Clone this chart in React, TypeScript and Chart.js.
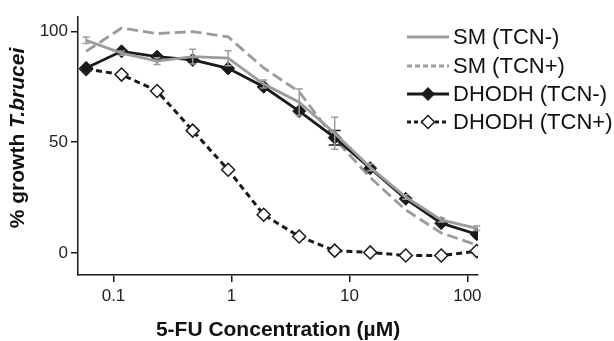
import { useEffect, useRef } from "react";
import { Chart, registerables } from "chart.js";

Chart.register(...registerables);

// ---- data ----
const concentrations = [0.0586, 0.117, 0.234, 0.469, 0.9375, 1.875, 3.75, 7.5, 15, 30, 60, 120];
const smTcnMinus = [96, 90.2, 86.6, 88.6, 87.9, 76.2, 68, 54, 38.6, 25.2, 14.9, 11.1];
const smTcnMinusErr = [1.5, 1, 1.5, 3.3, 3.4, 1.8, 6, 7.2, 1.5, 1, 1, 1];
const smTcnPlus = [91, 101.5, 99, 99.9, 97.5, 83.5, 72.7, 51.5, 34, 19.4, 9, 3.6];
const dhodhTcnMinus = [83.5, 91, 88.6, 87.1, 83.3, 75, 64, 52, 38.2, 24.4, 13.4, 8.4];
const dhodhTcnMinusErr = [0, 0, 0, 0, 0, 0, 0, 3.3, 0, 0, 0, 0];
const dhodhTcnPlus = [83, 80.5, 73.1, 55.2, 37.5, 17.2, 7.4, 1, 0.2, -1.2, -1.2, 0.8];
const seriesLabels = ["SM (TCN-)", "SM (TCN+)", "DHODH (TCN-)", "DHODH (TCN+)"];
const xTickValues = [0.1, 1, 10, 100];
const yTickValues = [0, 50, 100];
const xAxisTitle = "5-FU Concentration (\u00B5M)";
const yAxisTitleParts = ["% growth ", "T.brucei"];

const FONT = "'Liberation Sans', Arial, Helvetica, sans-serif";
const GRAY = "#9b9b9b";
const BLACK = "#1a1a1a";

const toPoints = (vals: number[]) => concentrations.map((x, i) => ({ x, y: vals[i] }));

const errorBarPlugin = {
  id: "errorBars",
  afterDatasetDraw(chart: any, args: any) {
    const ds: any = chart.data.datasets[args.index];
    if (!ds.errors) return;
    const yScale = chart.scales.y;
    const ctx = chart.ctx;
    ctx.save();
    ctx.strokeStyle = ds.errorColor;
    ctx.lineWidth = 1.5;
    ctx.setLineDash([]);
    const cap = ds.errorCap;
    args.meta.data.forEach((pt: any, i: number) => {
      const e = ds.errors[i];
      if (!e) return;
      const v = ds.data[i].y;
      const yT = yScale.getPixelForValue(v + e);
      const yB = yScale.getPixelForValue(v - e);
      ctx.beginPath();
      ctx.moveTo(pt.x, yT);
      ctx.lineTo(pt.x, yB);
      ctx.moveTo(pt.x - cap, yT);
      ctx.lineTo(pt.x + cap, yT);
      ctx.moveTo(pt.x - cap, yB);
      ctx.lineTo(pt.x + cap, yB);
      ctx.stroke();
    });
    ctx.restore();
  },
};

const titlesPlugin = {
  id: "titles",
  afterDraw(chart: any) {
    const ctx = chart.ctx;
    const area = chart.chartArea;
    ctx.save();
    ctx.fillStyle = "#111";
    // x title
    ctx.font = `bold 21px ${FONT}`;
    ctx.textAlign = "center";
    ctx.textBaseline = "alphabetic";
    ctx.fillText(xAxisTitle, (area.left + area.right) / 2, 336);
    // y title (mixed styles)
    const f1 = `bold 21px ${FONT}`;
    const f2 = `italic bold 21px ${FONT}`;
    ctx.font = f1;
    const w1 = ctx.measureText(yAxisTitleParts[0]).width;
    ctx.font = f2;
    const w2 = ctx.measureText(yAxisTitleParts[1]).width;
    ctx.translate(24, 138);
    ctx.rotate(-Math.PI / 2);
    ctx.textAlign = "left";
    const start = -(w1 + w2) / 2;
    ctx.font = f1;
    ctx.fillText(yAxisTitleParts[0], start, 0);
    ctx.font = f2;
    ctx.fillText(yAxisTitleParts[1], start + w1, 0);
    ctx.restore();
  },
};

const legendPlugin = {
  id: "customLegend",
  afterDraw(chart: any) {
    const ctx = chart.ctx;
    const x0 = 407;
    const x1 = 449;
    const rows = [37, 66, 94, 122];
    ctx.save();
    seriesLabels.forEach((label, r) => {
      const ds: any = chart.data.datasets.find((d: any) => d.label === label);
      const y = rows[r];
      ctx.strokeStyle = ds.borderColor;
      ctx.lineWidth = ds.borderWidth;
      ctx.setLineDash(ds.legendDash || []);
      ctx.beginPath();
      ctx.moveTo(x0, y);
      ctx.lineTo(x1, y);
      ctx.stroke();
      ctx.setLineDash([]);
      if (ds.pointRadius > 0) {
        const rad = ds.pointRadius;
        const cx = (x0 + x1) / 2;
        ctx.beginPath();
        ctx.moveTo(cx, y - rad);
        ctx.lineTo(cx + rad, y);
        ctx.lineTo(cx, y + rad);
        ctx.lineTo(cx - rad, y);
        ctx.closePath();
        ctx.fillStyle = ds.pointBackgroundColor;
        ctx.fill();
        ctx.lineWidth = ds.pointBorderWidth;
        ctx.strokeStyle = ds.pointBorderColor;
        ctx.stroke();
      }
      ctx.fillStyle = "#111";
      ctx.font = `22px ${FONT}`;
      ctx.textAlign = "left";
      ctx.textBaseline = "middle";
      ctx.fillText(label, 453, y + 1);
    });
    ctx.restore();
  },
};

export default function App() {
  const canvasRef = useRef<HTMLCanvasElement | null>(null);

  useEffect(() => {
    if (!canvasRef.current) return;
    const axisGrid = {
      display: true,
      drawOnChartArea: false,
      drawTicks: true,
      tickLength: 7,
      color: BLACK,
      lineWidth: 1.5,
    };
    const axisBorder = { display: true, color: BLACK, width: 1.5 };
    const chart = new Chart(canvasRef.current, {
      type: "line",
      data: {
        datasets: [
          {
            label: seriesLabels[0],
            data: toPoints(smTcnMinus),
            borderColor: GRAY,
            borderWidth: 2.8,
            pointRadius: 0,
            order: 0,
            errors: smTcnMinusErr,
            errorColor: GRAY,
            errorCap: 3.5,
          } as any,
          {
            label: seriesLabels[2],
            data: toPoints(dhodhTcnMinus),
            borderColor: BLACK,
            borderWidth: 2.8,
            pointStyle: "rectRot",
            pointRadius: 6.5,
            pointBackgroundColor: BLACK,
            pointBorderColor: BLACK,
            pointBorderWidth: 1,
            order: 1,
            errors: dhodhTcnMinusErr,
            errorColor: BLACK,
            errorCap: 6,
          } as any,
          {
            label: seriesLabels[1],
            data: toPoints(smTcnPlus),
            borderColor: GRAY,
            borderWidth: 2.8,
            borderDash: [11, 5],
            legendDash: [5, 3],
            pointRadius: 0,
            order: 2,
          } as any,
          {
            label: seriesLabels[3],
            data: toPoints(dhodhTcnPlus),
            borderColor: BLACK,
            borderWidth: 3,
            borderDash: [6, 4],
            legendDash: [4, 3],
            pointStyle: "rectRot",
            pointRadius: 6.5,
            pointBackgroundColor: "#ffffff",
            pointBorderColor: BLACK,
            pointBorderWidth: 1.5,
            order: 3,
          } as any,
        ],
      },
      options: {
        responsive: false,
        animation: false,
        events: [],
        layout: { padding: { top: 17, right: 136, left: 0, bottom: 0 } },
        plugins: {
          legend: { display: false },
          tooltip: { enabled: false },
          title: { display: false },
        },
        scales: {
          x: {
            type: "logarithmic",
            min: 0.05,
            max: 123,
            afterBuildTicks: (s: any) => {
              s.ticks = xTickValues.map((v) => ({ value: v }));
            },
            afterFit: (s: any) => {
              s.height = 66;
            },
            ticks: {
              callback: (v: any) => String(v),
              font: { size: 17, family: FONT },
              color: "#222",
              padding: 4,
              autoSkip: false,
              maxRotation: 0,
            },
            grid: axisGrid,
            border: axisBorder,
          },
          y: {
            type: "linear",
            min: -10,
            max: 106.5,
            afterBuildTicks: (s: any) => {
              s.ticks = yTickValues.map((v) => ({ value: v }));
            },
            afterFit: (s: any) => {
              s.width = 78;
            },
            ticks: {
              font: { size: 17, family: FONT },
              color: "#222",
              padding: 3,
            },
            grid: axisGrid,
            border: axisBorder,
          },
        },
      } as any,
      plugins: [errorBarPlugin, titlesPlugin, legendPlugin],
    });
    return () => chart.destroy();
  }, []);

  return (
    <div style={{ position: "fixed", left: 0, top: 0, width: 614, height: 341, background: "#fff" }}>
      <canvas ref={canvasRef} width={614} height={341} />
    </div>
  );
}
